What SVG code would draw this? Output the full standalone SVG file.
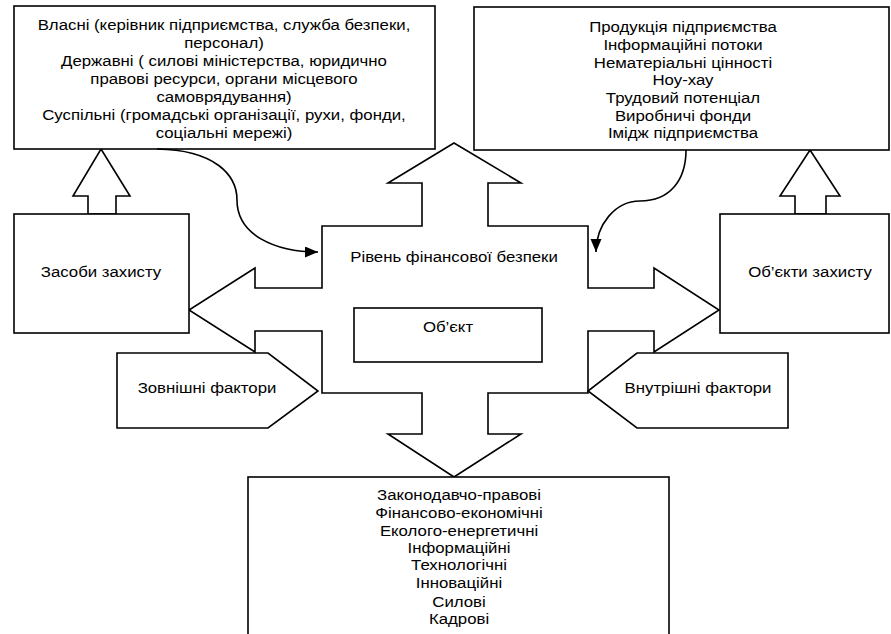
<svg xmlns="http://www.w3.org/2000/svg" width="891" height="634" viewBox="0 0 891 634">
<style>
.s{fill:#fff;stroke:#000;stroke-width:1.6}
.t{font-family:"Liberation Sans",Arial,sans-serif;font-size:15px;fill:#000;text-anchor:middle}
.c{fill:none;stroke:#000;stroke-width:1.6}
</style>
<defs>
<marker id="ah" markerUnits="userSpaceOnUse" markerWidth="14" markerHeight="12" refX="13" refY="5.5" orient="auto">
<path d="M0,0 L13,5.5 L0,11 z" fill="#000"/>
</marker>
</defs>
<rect width="891" height="634" fill="#fff"/>
<g id="cross">
<polygon class="s" points="454,143 521,183 488,183 488,226 588,226 588,288 654,288 654,268 719,310 654,352 654,331 588,331 588,393 488,393 488,434 521,434 454,477 388,434 422,434 422,393 322,393 322,331 255,331 255,352 189,310 255,268 255,288 322,288 322,226 422,226 422,183 388,183"/>
<g transform="translate(454 0) scale(1.12 1)"><text class="t" x="0" y="262">Рівень фінансової безпеки</text></g>
</g>
<g id="arrow-up-left">
<polygon class="s" points="101,149 130,196 116,196 116,214 88,214 88,196 73,196"/>
</g>
<g id="arrow-up-right">
<polygon class="s" points="810,150 840,196 826,196 826,214 795,214 795,196 780,196"/>
</g>
<g id="subjects">
<rect class="s" x="14" y="6" width="421" height="143"/>
<g transform="translate(224 0) scale(1.12 1)">
<text class="t" x="0" y="30">Власні (керівник підприємства, служба безпеки,</text>
<text class="t" x="0" y="48">персонал)</text>
<text class="t" x="0" y="66">Державні ( силові міністерства, юридично</text>
<text class="t" x="0" y="84">правові ресурси, органи місцевого</text>
<text class="t" x="0" y="102">самоврядування)</text>
<text class="t" x="0" y="120">Суспільні (громадські організації, рухи, фонди,</text>
<text class="t" x="0" y="138">соціальні мережі)</text>
</g>
</g>
<g id="objects-list">
<rect class="s" x="474" y="7" width="415" height="143"/>
<g transform="translate(683 0) scale(1.12 1)">
<text class="t" x="0" y="32">Продукція підприємства</text>
<text class="t" x="0" y="50">Інформаційні потоки</text>
<text class="t" x="0" y="68">Нематеріальні цінності</text>
<text class="t" x="0" y="85">Ноу-хау</text>
<text class="t" x="0" y="103">Трудовий потенціал</text>
<text class="t" x="0" y="121">Виробничі фонди</text>
<text class="t" x="0" y="138">Імідж підприємства</text>
</g>
</g>
<g id="means">
<rect class="s" x="14" y="214" width="175" height="119"/>
<g transform="translate(101 0) scale(1.12 1)"><text class="t" x="0" y="277">Засоби захисту</text></g>
</g>
<g id="objects">
<rect class="s" x="720" y="214" width="169" height="119"/>
<g transform="translate(810 0) scale(1.12 1)"><text class="t" x="0" y="277">Об’єкти захисту</text></g>
</g>
<g id="object">
<rect class="s" x="354" y="308" width="188" height="54"/>
<g transform="translate(448 0) scale(1.12 1)"><text class="t" x="0" y="332">Об’єкт</text></g>
</g>
<g id="external">
<polygon class="s" points="117,353 268,353 318,391 268,428 117,428"/>
<g transform="translate(207 0) scale(1.12 1)"><text class="t" x="0" y="393">Зовнішні фактори</text></g>
</g>
<g id="internal">
<polygon class="s" points="637,353 788,353 788,428 637,428 588,391"/>
<g transform="translate(698 0) scale(1.12 1)"><text class="t" x="0" y="393">Внутрішні фактори</text></g>
</g>
<g id="threats">
<rect class="s" x="248" y="477" width="421" height="170"/>
<g transform="translate(459 0) scale(1.12 1)">
<text class="t" x="0" y="500">Законодавчо-правові</text>
<text class="t" x="0" y="518">Фінансово-економічні</text>
<text class="t" x="0" y="536">Еколого-енергетичні</text>
<text class="t" x="0" y="553">Інформаційні</text>
<text class="t" x="0" y="570">Технологічні</text>
<text class="t" x="0" y="588">Інноваційні</text>
<text class="t" x="0" y="607">Силові</text>
<text class="t" x="0" y="624">Кадрові</text>
</g>
</g>
<g id="connectors">
<path class="c" d="M157,149 C215,150 237,175 237,200 C237,235 275,252 318,252" marker-end="url(#ah)"/>
<path class="c" d="M686,150 C686,180 670,201 640,201 C615,201 596,225 596,252" marker-end="url(#ah)"/>
</g>
</svg>
